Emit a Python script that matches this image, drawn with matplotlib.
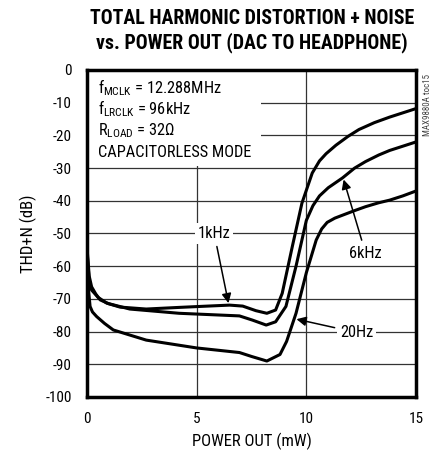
import numpy as np
import matplotlib
matplotlib.use('Agg')
import matplotlib.pyplot as plt

# data (power in mW, THD+N in dB)
p_1k = [0.02, 0.1, 0.21, 0.4, 0.6, 1.0, 1.5, 2.7, 4.2, 5.5, 6.5, 7.1, 7.7, 8.2, 8.6,
        8.9, 9.36, 9.8, 10.27, 10.6, 10.9, 11.35, 11.9, 12.4, 13.1, 13.8, 14.4, 15.0]
thd_1k = [-56, -63, -66.3, -68.5, -70.3, -71.5, -72.5, -73.1, -72.6, -72.2, -71.9, -72.2, -73.6, -74.4, -73.4,
          -68.3, -54, -40.7, -31.5, -27.8, -25.6, -23, -20.3, -18.2, -16.1, -14.4, -13.1, -11.8]

p_6k = [0.02, 0.1, 0.21, 0.5, 0.9, 1.95, 4.2, 6.95, 7.55, 8.17, 8.6, 9.07, 9.53, 10.0,
        10.3, 10.6, 11.0, 11.65, 12.2, 12.7, 13.3, 13.8, 14.4, 15.0]
thd_6k = [-57, -64.5, -67.3, -69.5, -71.3, -73.1, -74.4, -75.2, -76.5, -78, -77, -72.3, -60, -46,
          -41.5, -38.5, -36, -33, -30, -28, -26, -24.6, -23.3, -22]

p_20 = [0.02, 0.08, 0.14, 0.25, 0.44, 0.8, 1.2, 2.7, 5.0, 6.95, 7.5, 8.2, 8.8, 9.1, 9.53,
        10.0, 10.45, 10.7, 10.95, 11.3, 11.65, 12.2, 12.7, 13.3, 13.8, 14.4, 15.0]
thd_20 = [-60, -68, -72.3, -74, -75.4, -77.5, -79.5, -82.6, -85, -86.4, -87.6, -89, -87, -83, -74.4,
          -62, -52, -48.6, -46.6, -45.3, -44.4, -43, -41.8, -40.6, -39.8, -38.5, -37]

xticks = [0, 5, 10, 15]
yticks = [0, -10, -20, -30, -40, -50, -60, -70, -80, -90, -100]

plt.rcParams['font.family'] = ['Roboto Condensed', 'DejaVu Sans']
plt.rcParams['axes.unicode_minus'] = False
plt.rcParams['mathtext.fontset'] = 'custom'
plt.rcParams['mathtext.rm'] = 'Roboto Condensed'
plt.rcParams['mathtext.it'] = 'Roboto Condensed'
plt.rcParams['mathtext.sf'] = 'Roboto Condensed'
plt.rcParams['mathtext.default'] = 'rm'

fig = plt.figure(figsize=(4.41, 4.58), dpi=100)
ax = fig.add_axes([87/441, 61/458, 329/441, 327/458])

for v in yticks[1:-1]:
    ax.axhline(v, color='#333333', lw=0.9, zorder=1)
for v in xticks[1:-1]:
    ax.axvline(v, color='#333333', lw=0.9, zorder=1)

for p, t in [(p_1k, thd_1k), (p_6k, thd_6k), (p_20, thd_20)]:
    ax.plot(p, t, color='black', lw=2.2, solid_joinstyle='round', solid_capstyle='round', zorder=4)

ax.set_xlim(0, 15)
ax.set_ylim(-100, 0)
ax.set_xticks(xticks)
ax.set_yticks(yticks)
ax.tick_params(length=0, labelsize=11)
ax.tick_params(axis='x', pad=11)
ax.tick_params(axis='y', pad=11)
for s in ax.spines.values():
    s.set_linewidth(2.5)

ax.set_xlabel('POWER OUT (mW)', fontsize=12, labelpad=5)
ax.set_ylabel('THD+N (dB)', fontsize=12, labelpad=6)

# white block behind the conditions text
ax.add_patch(plt.Rectangle((0.02, -29.3), 7.9, 29.2, facecolor='white', edgecolor='none', zorder=2))
cond = ['f$_{MCLK}$ = 12.288MHz', 'f$_{LRCLK}$ = 96kHz', 'R$_{LOAD}$ = 32Ω', 'CAPACITORLESS MODE']
for i, s in enumerate(cond):
    ax.text(0.5, -5.3 - 6.6 * i, s, fontsize=11.8, va='center', ha='left', zorder=5)

bbox = dict(facecolor='white', edgecolor='none', pad=2)
arrow = dict(arrowstyle='-|>', color='black', lw=1.1, mutation_scale=14, shrinkA=2, shrinkB=0)
ax.annotate('1kHz', xy=(6.45, -71.3), xytext=(5.8, -50), fontsize=11.8, ha='center', va='center',
            bbox=bbox, arrowprops=arrow, zorder=6)
ax.annotate('6kHz', xy=(11.7, -33.5), xytext=(12.7, -56), fontsize=11.8, ha='center', va='center',
            bbox=bbox, arrowprops=arrow, zorder=6)
ax.annotate('20Hz', xy=(9.55, -76.2), xytext=(12.3, -80.3), fontsize=11.8, ha='center', va='center',
            bbox=bbox, arrowprops=arrow, zorder=6)

fig.text(427/441, 1 - 105/458, 'MAX9880A toc15', rotation=90, fontsize=6.5, color='#444444',
         ha='center', va='center')

fig.text(252/441, 1 - 18/458, 'TOTAL HARMONIC DISTORTION + NOISE', fontsize=14.3, fontweight='bold',
         ha='center', va='center')
fig.text(252/441, 1 - 43/458, 'vs. POWER OUT (DAC TO HEADPHONE)', fontsize=14.3, fontweight='bold',
         ha='center', va='center')

fig.savefig('out.png', dpi=100)
